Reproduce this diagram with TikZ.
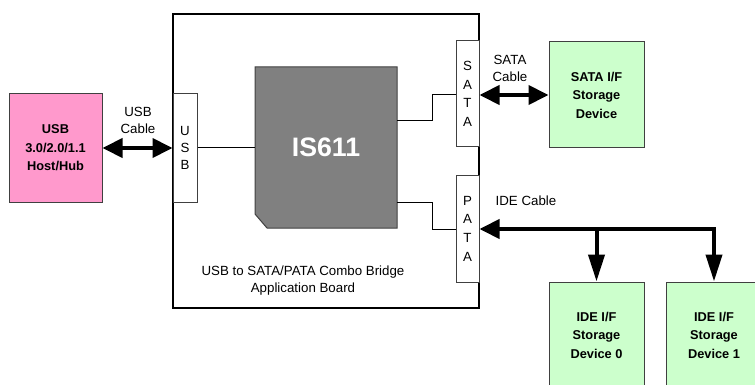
\documentclass[tikz,border=0pt]{standalone}
\usepackage{fontspec}
\setmainfont{Liberation Sans}
\usetikzlibrary{arrows.meta}
\definecolor{hostpink}{HTML}{FF99CC}
\definecolor{devgreen}{HTML}{CCFFCC}
\definecolor{chipgray}{HTML}{808080}
\definecolor{edgegray}{HTML}{404040}
\tikzset{
  lbl/.style={font=\fontsize{13.3}{17}\selectfont, align=center, inner sep=0pt},
  boldlbl/.style={font=\fontsize{12.8}{18.5}\selectfont\bfseries, align=center, inner sep=0pt},
  hostbox/.style={draw=edgegray, line width=1pt, fill=hostpink, minimum width=93pt, minimum height=108pt, boldlbl},
  devbox/.style={draw=edgegray, line width=1pt, fill=devgreen, minimum width=95pt, minimum height=106pt, boldlbl},
  portbox/.style={draw=edgegray, line width=1pt, fill=white, inner sep=0pt, align=center},
  wire/.style={line width=1pt, draw=black},
  bigarrow/.style={line width=4pt, {Triangle[length=20pt,width=19pt]}-{Triangle[length=20pt,width=19pt]}},
  downarrow/.style={line width=4pt, -{Triangle[length=27pt,width=16pt]}},
}
\begin{document}
\begin{tikzpicture}[x=1pt,y=-1pt]
\useasboundingbox (0,0) rectangle (755,385);
\clip (0,0) rectangle (755,385);
% board
\node[draw=black, line width=2pt, minimum width=306pt, minimum height=294pt, inner sep=0pt] (board) at (326,161) {};
\node[lbl] (boardlbl) at (303,281) {USB to SATA/PATA Combo Bridge\\Application Board};
% chip
\fill[chipgray, draw=edgegray, line width=1pt] (255,67) -- (397,67) -- (397,228) -- (267,228) -- (255,214) -- cycle;
\node[minimum width=142pt, minimum height=161pt, inner sep=0pt, text=white, font=\fontsize{26.7}{30}\selectfont\bfseries] (chip) at (326,147.5) {IS611};
% ports
\node[portbox, minimum width=24pt, minimum height=108pt, font=\fontsize{13.3}{16.7}\selectfont] (usbp) at (185,148) {U\\S\\B};
\node[portbox, minimum width=23pt, minimum height=106pt, font=\fontsize{13.3}{18.7}\selectfont] (satap) at (467.5,94) {S\\A\\T\\A};
\node[portbox, minimum width=23pt, minimum height=107pt, font=\fontsize{13.3}{18.7}\selectfont] (patap) at (467.5,228.5) {P\\A\\T\\A};
% host and devices
\node[hostbox] (host) at (55.5,148) {USB\\3.0/2.0/1.1\\Host/Hub};
\node[devbox] (satadev) at (596.5,95) {SATA I/F\\Storage\\Device};
\node[devbox] (ide0) at (596.5,335) {IDE I/F\\Storage\\Device 0};
\node[devbox] (ide1) at (714,335) {IDE I/F\\Storage\\Device 1};
% labels
\node[lbl] (usbcbl) at (138,120) {USB\\Cable};
\node[lbl] (satacbl) at (510,68.5) {SATA\\Cable};
\node[lbl] (idecbl) at (526,201) {IDE Cable};
% wires
\draw[wire] (usbp.east) -- (usbp.east -| chip.west);
\draw[wire] (chip.east |- 0,121) -| (432,95) -- (satap.west |- 0,95);
\draw[wire] (chip.east |- 0,202) -| (432,229) -- (patap.west |- 0,229);
% cables
\draw[bigarrow] (host.east) -- (usbp.west);
\draw[bigarrow] (satap.east |- 0,95) -- (satadev.west |- 0,95);
\draw[line width=4pt, {Triangle[length=20pt,width=19pt]}-{Triangle[length=27pt,width=16pt]}, line join=miter] (patap.east |- 0,229) -- (ide1.north |- 0,229) -- (ide1.north);
\draw[downarrow] (ide0.north |- 0,229) -- (ide0.north);
\end{tikzpicture}
\end{document}
